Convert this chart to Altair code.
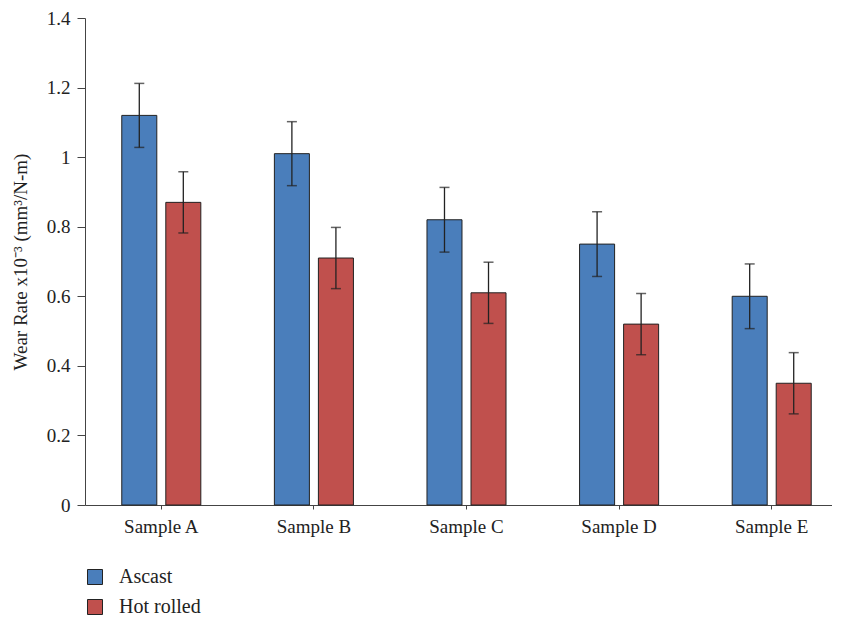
import altair as alt
import pandas as pd

samples = ["Sample A", "Sample B", "Sample C", "Sample D", "Sample E"]
series = ["Ascast", "Hot rolled"]
ascast = [1.12, 1.01, 0.82, 0.75, 0.60]
hot_rolled = [0.87, 0.71, 0.61, 0.52, 0.35]
ascast_err = [0.092, 0.092, 0.093, 0.093, 0.093]
hot_rolled_err = [0.088, 0.088, 0.088, 0.088, 0.088]
colors = ["#4a7ebb", "#c0504d"]

rows = []
for i, s in enumerate(samples):
    rows.append({"sample": s, "series": "Ascast", "value": ascast[i],
                 "lo": ascast[i] - ascast_err[i], "hi": ascast[i] + ascast_err[i]})
    rows.append({"sample": s, "series": "Hot rolled", "value": hot_rolled[i],
                 "lo": hot_rolled[i] - hot_rolled_err[i], "hi": hot_rolled[i] + hot_rolled_err[i]})
df = pd.DataFrame(rows)

FONT = "Liberation Serif"

x = alt.X("sample:N", sort=samples, title=None,
          scale=alt.Scale(range=[0, 763], paddingInner=0.482, paddingOuter=0.241),
          axis=alt.Axis(labelAngle=0, labelFont=FONT, labelFontSize=19, labelColor="#222",
                        domainColor="#444", tickColor="#444", tickSize=4, labelPadding=8))
xo = alt.XOffset("series:N", sort=series,
                 scale=alt.Scale(paddingInner=0.2045, paddingOuter=0))
y_axis = alt.Axis(values=[0, 0.2, 0.4, 0.6, 0.8, 1.0, 1.2, 1.4], format="~g", grid=False,
                  labelFont=FONT, labelFontSize=19, labelColor="#222", labelPadding=7,
                  domainColor="#444", tickColor="#444", tickSize=8,
                  titleFont=FONT, titleFontSize=19, titleFontWeight="normal", titleColor="#222",
                  titlePadding=16)

base = alt.Chart(df)

bars = base.mark_bar(stroke="#222", strokeWidth=1).encode(
    x=x, xOffset=xo,
    y=alt.Y("value:Q", title="Wear Rate x10⁻³ (mm³/N-m)",
            scale=alt.Scale(domain=[0, 1.4], nice=False), axis=y_axis),
    color=alt.Color("series:N", sort=series,
                    scale=alt.Scale(domain=series, range=colors),
                    legend=alt.Legend(title=None, orient="none", legendX=0, legendY=549,
                                      direction="vertical", symbolType="square",
                                      symbolSize=225, symbolStrokeColor="#222",
                                      symbolStrokeWidth=1, labelFont=FONT, labelFontSize=20,
                                      labelColor="#222", labelOffset=14, rowPadding=10,
                                      padding=0)),
)

rules = base.mark_rule(color="#222", strokeWidth=1.3).encode(
    x=x, xOffset=xo, y="lo:Q", y2="hi:Q")

caps_hi = base.mark_tick(color="#222", thickness=1.5, size=10).encode(
    x=x, xOffset=xo, y="hi:Q")
caps_lo = base.mark_tick(color="#222", thickness=1.5, size=10).encode(
    x=x, xOffset=xo, y="lo:Q")

chart = alt.layer(bars, rules, caps_hi, caps_lo).properties(
    width=747, height=487,
    autosize=alt.AutoSizeParams(type="none"),
    padding={"left": 77, "top": 10, "right": 0, "bottom": 112},
).configure_view(stroke=None)

chart.save("out.html", embed_options={"renderer": "svg", "actions": False})
